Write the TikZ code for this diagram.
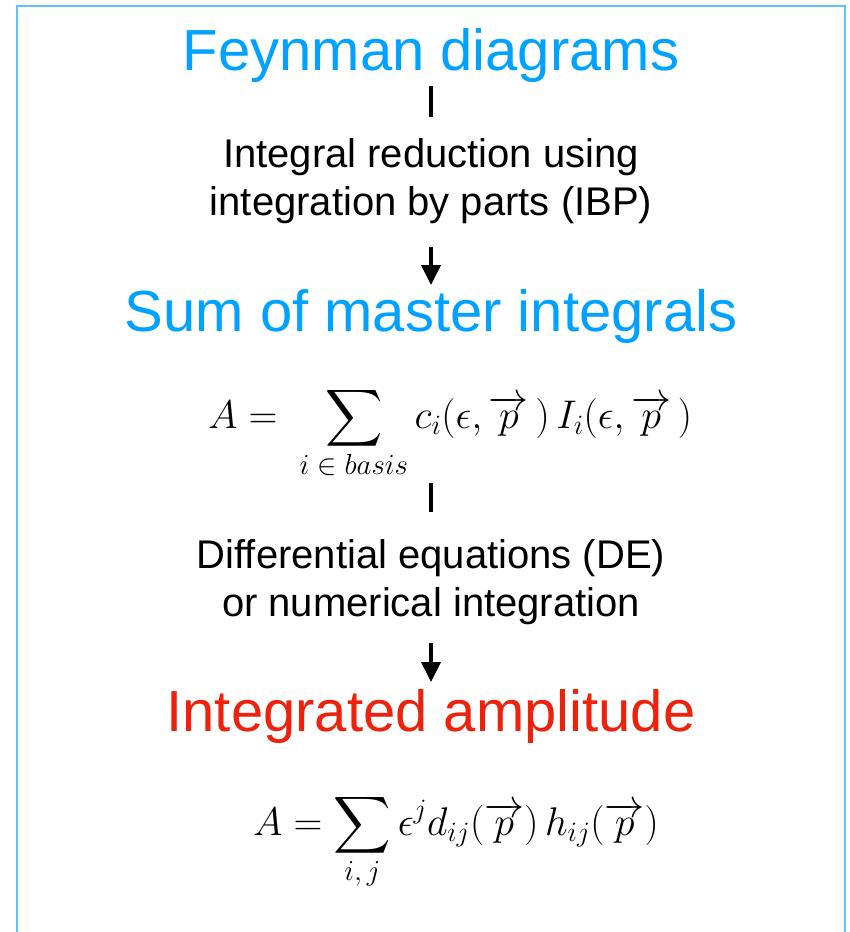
\RequirePackage{fix-cm}
\documentclass[tikz,border=0pt]{standalone}
\usepackage{amsmath}
\usepackage{graphicx}
\usepackage{fontspec}
\setmainfont{Liberation Sans}
\usetikzlibrary{arrows.meta}
\definecolor{headblue}{RGB}{0,162,255}
\definecolor{headred}{RGB}{238,34,12}
\definecolor{framebl}{RGB}{95,195,250}
\newcommand{\bigsumop}{\mathop{\vcenter{\hbox{\scalebox{1.6}{$\displaystyle\sum$}}}}\limits}
\newcommand{\limtext}[1]{\mbox{\fontsize{29}{30}\selectfont$#1$}}
\tikzset{
  heading/.style={anchor=base, inner sep=0pt, font=\fontsize{58}{60}\selectfont},
  bodytext/.style={anchor=base, inner sep=0pt, align=center, font=\fontsize{40}{48}\selectfont},
  mathtext/.style={anchor=base, inner sep=0pt, font=\fontsize{40}{48}\selectfont},
  barline/.style={line width=3.5pt, black},
  arrowline/.style={line width=4pt, black, -{Triangle[width=19pt,length=20pt]}},
  frameline/.style={line width=2.5pt, framebl}
}
\begin{document}
\begin{tikzpicture}[x=1pt,y=-1pt]
\useasboundingbox (0,0) rectangle (849,932);
\fill[white] (0,0) rectangle (849,932);
\draw[frameline] (17,940) -- (17,6) -- (845,6) -- (845,940);

\node[heading, text=headblue] (feyn) at (431,70) {Feynman diagrams};
\coordinate (b1s) at (431,86);
\coordinate (b1e) at (431,117);
\draw[barline] (b1s) -- (b1e);
\node[bodytext] (ibp) at (431,215) {Integral reduction using\\integration by parts (IBP)};
\coordinate (a1s) at (431,247);
\coordinate (a1e) at (431,285);
\draw[arrowline] (a1s) -- (a1e);
\node[heading, text=headblue] (sum) at (431,331) {Sum of master integrals};
\node[mathtext] (eq1) at (450,428) {$\displaystyle A =\; \bigsumop_{\limtext{i\in basis}} c_i(\epsilon, \overrightarrow{p}\,)\, I_i(\epsilon, \overrightarrow{p}\,)$};
\coordinate (b2s) at (431,483);
\coordinate (b2e) at (431,512);
\draw[barline] (b2s) -- (b2e);
\node[bodytext] (de) at (431,616) {Differential equations (DE)\\or numerical integration};
\coordinate (a2s) at (431,643);
\coordinate (a2e) at (431,682);
\draw[arrowline] (a2s) -- (a2e);
\node[heading, text=headred] (amp) at (431,731) {Integrated amplitude};
\node[mathtext] (eq2) at (456,835) {$\displaystyle A = \bigsumop_{\limtext{i,j}} \epsilon^j d_{ij}(\overrightarrow{p})\, h_{ij}(\overrightarrow{p})$};
\end{tikzpicture}
\end{document}
